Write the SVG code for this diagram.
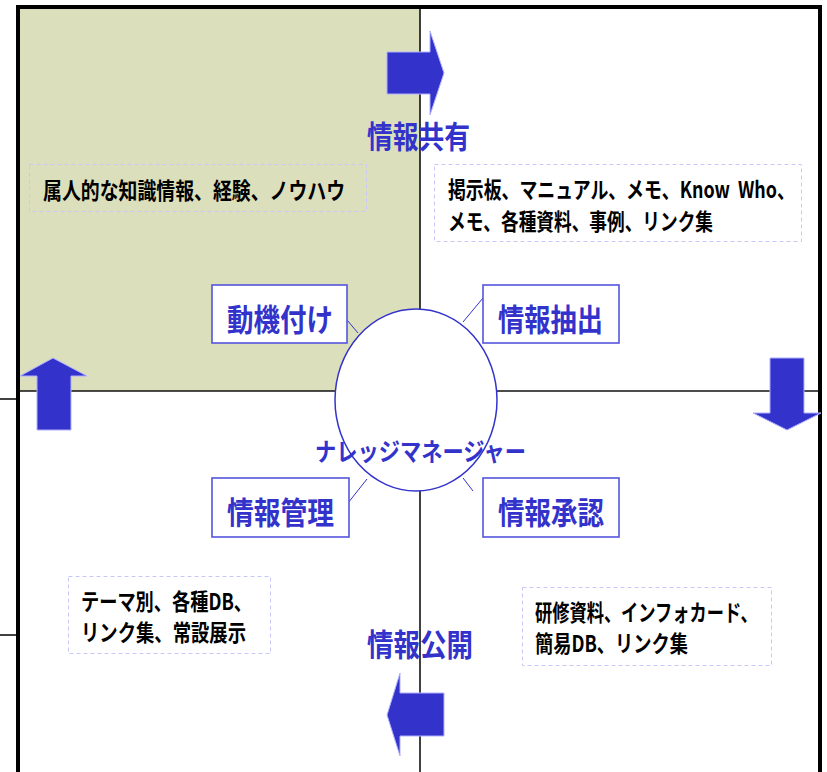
<svg xmlns="http://www.w3.org/2000/svg" width="827" height="772" viewBox="0 0 827 772">
<defs>
<style>
.frame{fill:none;stroke:#000;stroke-width:4}
.div{stroke:#111;stroke-width:1.6;fill:none}
.arrow{fill:#3333CC;stroke:#B0B0FF;stroke-width:1}
.lbl{fill:#fff;stroke:#5555DD;stroke-width:1.6}
.dash{fill:none;stroke:#C8C8F8;stroke-width:1;stroke-dasharray:4 3}
.conn{stroke:#3333CC;stroke-width:1;fill:none}
.bt{font-family:"Noto Sans CJK JP","Noto Sans",sans-serif;font-weight:bold;fill:#3333CC}
.kt{font-family:"Noto Sans CJK JP","Noto Sans",sans-serif;font-weight:bold;fill:#000;font-size:23px}
</style>
</defs>
<rect id="bg" x="0" y="0" width="827" height="772" fill="#fff"/>
<g id="quadrants">
<rect x="20" y="9" width="400" height="382" fill="#DCDFBC"/>
<line class="div" x1="20" y1="391" x2="818" y2="391"/>
<line class="div" x1="420" y1="9" x2="420" y2="772"/>
<line class="div" x1="0" y1="399" x2="17" y2="399"/>
<line class="div" x1="0" y1="635" x2="17" y2="635"/>
<path class="frame" d="M18 775 V7 H820 V775"/>
</g>
<g id="dashed-boxes">
<rect class="dash" x="29.5" y="164.5" width="337" height="47"/>
<rect class="dash" x="434.5" y="164.5" width="367" height="77"/>
<rect class="dash" x="68.5" y="576.5" width="202" height="77"/>
<rect class="dash" x="522.5" y="587.5" width="249" height="78"/>
</g>
<g id="node-manager">
<ellipse cx="416" cy="400" rx="81" ry="91" fill="#fff" stroke="#3333CC" stroke-width="1.5"/>
</g>
<g id="connectors">
<line class="conn" x1="347" y1="320" x2="358" y2="333"/>
<line class="conn" x1="483" y1="298" x2="463" y2="322"/>
<line class="conn" x1="348" y1="503" x2="367" y2="479"/>
<line class="conn" x1="463" y1="478" x2="473" y2="491"/>
</g>
<g id="node-motivation">
<rect class="lbl" x="212" y="285" width="135" height="58"/>
<text class="bt" x="227" y="331" font-size="31" textLength="106" lengthAdjust="spacingAndGlyphs">動機付け</text>
</g>
<g id="node-extract">
<rect class="lbl" x="483" y="285" width="136" height="58"/>
<text class="bt" x="498" y="331" font-size="31" textLength="105" lengthAdjust="spacingAndGlyphs">情報抽出</text>
</g>
<g id="node-manage">
<rect class="lbl" x="212" y="478" width="137" height="59"/>
<text class="bt" x="227" y="524" font-size="31" textLength="107" lengthAdjust="spacingAndGlyphs">情報管理</text>
</g>
<g id="node-approve">
<rect class="lbl" x="483" y="478" width="136" height="59"/>
<text class="bt" x="498" y="524" font-size="31" textLength="106" lengthAdjust="spacingAndGlyphs">情報承認</text>
</g>
<g id="arrows">
<path class="arrow" d="M387 52 H430 V31 L444 73 L430 115 V94 H387 Z"/>
<path class="arrow" d="M770 358 H804 V413 H821 L787 430 L753 413 H770 Z"/>
<path class="arrow" d="M444 693 V736 H400 V756 L387 715 L400 673 V693 Z"/>
<path class="arrow" d="M37 430 V376 H20 L53 358 L87 376 H71 V430 Z"/>
</g>
<g id="labels">
<text class="bt" x="367" y="148" font-size="31" textLength="103" lengthAdjust="spacingAndGlyphs">情報共有</text>
<text class="bt" x="367" y="656" font-size="31" textLength="106" lengthAdjust="spacingAndGlyphs">情報公開</text>
<text class="bt" x="315" y="461" font-size="25" textLength="211" lengthAdjust="spacingAndGlyphs">ナレッジマネージャー</text>
</g>
<g id="texts">
<text class="kt" x="43" y="199" textLength="302" lengthAdjust="spacingAndGlyphs">属人的な知識情報、経験、ノウハウ</text>
<text class="kt" transform="translate(448,198) scale(0.85,1)" x="0" y="0" font-size="22" textLength="408" lengthAdjust="spacingAndGlyphs">掲示板、マニュアル、メモ、Know&#160;&#160;Who、</text>
<text class="kt" x="448" y="230" textLength="265" lengthAdjust="spacingAndGlyphs">メモ、各種資料、事例、リンク集</text>
<text class="kt" x="81" y="610" textLength="171" lengthAdjust="spacingAndGlyphs">テーマ別、各種DB、</text>
<text class="kt" x="81" y="641" textLength="165" lengthAdjust="spacingAndGlyphs">リンク集、常設展示</text>
<text class="kt" transform="translate(535,621) scale(0.85,1)" x="0" y="0" font-size="22" textLength="262" lengthAdjust="spacingAndGlyphs">研修資料、インフォカード、</text>
<text class="kt" x="535" y="652" textLength="153" lengthAdjust="spacingAndGlyphs">簡易DB、リンク集</text>
</g>
</svg>
